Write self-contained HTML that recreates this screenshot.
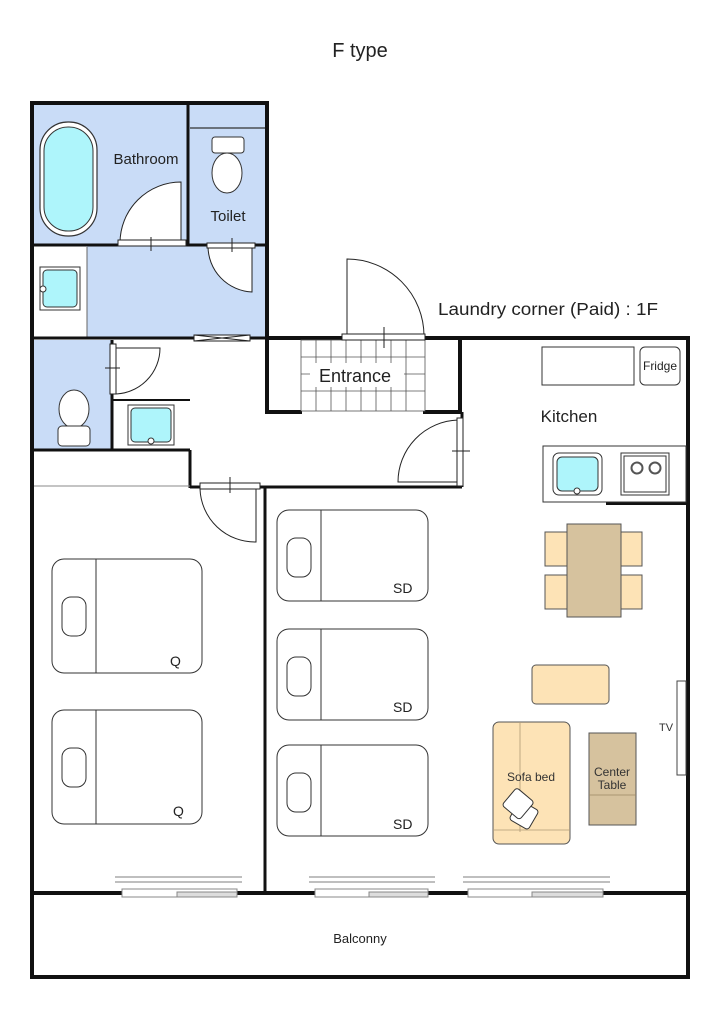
<!DOCTYPE html>
<html><head><meta charset="utf-8"><style>
html,body{margin:0;padding:0;background:#fff;}
svg{display:block;font-family:"Liberation Sans","DejaVu Sans",sans-serif;}
</style></head><body>
<svg width="720" height="1018" viewBox="0 0 720 1018" xmlns="http://www.w3.org/2000/svg">
<rect width="720" height="1018" fill="#fff"/>
<text x="360" y="57" font-size="20" text-anchor="middle" fill="#222">F type</text>

<g fill="#c9dcf7">
<rect x="34" y="105" width="154" height="140"/>
<rect x="188" y="105" width="77" height="140"/>
<rect x="87" y="245" width="178" height="93"/>
<rect x="34" y="340" width="78" height="110"/>
</g>
<rect x="34" y="245" width="53" height="93" fill="#fff"/>
<line x1="87" y1="247" x2="87" y2="338" stroke="#666" stroke-width="1"/>
<line x1="190" y1="128" x2="265" y2="128" stroke="#333" stroke-width="1.2"/>

<g stroke="#111" stroke-width="4" fill="none" stroke-linecap="square">
<polyline points="32,338 32,103 267,103 267,338"/>
<line x1="32" y1="338" x2="32" y2="977"/>
<line x1="32" y1="977" x2="688" y2="977"/>
<line x1="688" y1="338" x2="688" y2="977"/>
<line x1="32" y1="893" x2="688" y2="893"/>
<line x1="425" y1="338" x2="688" y2="338"/>
<line x1="267" y1="338" x2="342" y2="338"/>
<line x1="267" y1="338" x2="267" y2="412"/>
<line x1="267" y1="412" x2="300" y2="412"/>
<line x1="425" y1="412" x2="460" y2="412"/>
<line x1="460" y1="340" x2="460" y2="412"/>
<line x1="608" y1="503" x2="686" y2="503"/>
</g>
<g stroke="#111" stroke-width="3" fill="none">
<line x1="188" y1="104" x2="188" y2="245"/>
<line x1="32" y1="245" x2="120" y2="245"/>
<line x1="185" y1="245" x2="207" y2="245"/>
<line x1="255" y1="245" x2="266" y2="245"/>
<line x1="32" y1="338" x2="195" y2="338"/>
<line x1="250" y1="338" x2="267" y2="338"/>
<line x1="112" y1="340" x2="112" y2="450"/>
<line x1="32" y1="450" x2="190" y2="450"/>
<line x1="190" y1="450" x2="190" y2="488"/>
<line x1="190" y1="487" x2="200" y2="487"/>
<line x1="260" y1="487" x2="462" y2="487"/>
<line x1="462" y1="412" x2="462" y2="487"/>
<line x1="265" y1="487" x2="265" y2="893"/>
</g>
<line x1="112" y1="400" x2="190" y2="400" stroke="#111" stroke-width="2"/>
<line x1="34" y1="486" x2="190" y2="486" stroke="#888" stroke-width="1"/>

<g stroke="#555" stroke-width="0.8">
<rect x="301" y="340" width="124" height="71" fill="#fff"/>
<line x1="316" y1="340" x2="316" y2="411"/><line x1="331" y1="340" x2="331" y2="411"/><line x1="346" y1="340" x2="346" y2="411"/><line x1="361" y1="340" x2="361" y2="411"/><line x1="376" y1="340" x2="376" y2="411"/><line x1="391" y1="340" x2="391" y2="411"/><line x1="406" y1="340" x2="406" y2="411"/>
<line x1="301" y1="357" x2="425" y2="357"/><line x1="301" y1="374" x2="425" y2="374"/><line x1="301" y1="391" x2="425" y2="391"/>
</g>
<rect x="310" y="363" width="94" height="24" fill="#fff"/>
<text x="355" y="382" font-size="18" text-anchor="middle" fill="#222">Entrance</text>

<g stroke="#222" stroke-width="1" fill="#fff">
<path d="M120,243 L181,243 L181,182 A61,61 0 0 0 120,243 Z"/>
<rect x="118" y="240" width="68" height="6"/>
<line x1="151" y1="237" x2="151" y2="251"/>
<path d="M208,246 L252,246 L252,292 A46,46 0 0 1 208,246 Z"/>
<rect x="207" y="243" width="48" height="5"/>
<line x1="232" y1="238" x2="232" y2="252"/>
<path d="M347,336 L347,259 A77,77 0 0 1 424,336 Z"/>
<rect x="342" y="334" width="83" height="6"/>
<line x1="384" y1="327" x2="384" y2="348"/>
<path d="M458,420 L458,482 L398,482 A62,62 0 0 1 458,420 Z"/>
<rect x="457" y="418" width="6" height="68"/>
<line x1="452" y1="451" x2="470" y2="451"/>
<path d="M114,348 L114,394 A46,46 0 0 0 160,348 Z"/>
<rect x="110" y="344" width="6" height="50"/>
<line x1="105" y1="368" x2="120" y2="368"/>
<path d="M200,489 L256,489 L256,542 A55,55 0 0 1 200,489 Z"/>
<rect x="200" y="483" width="60" height="6"/>
<line x1="230" y1="477" x2="230" y2="493"/>
<rect x="194" y="335" width="56" height="6"/>
<line x1="194" y1="335" x2="250" y2="341"/><line x1="194" y1="341" x2="250" y2="335"/>
</g>

<rect x="40" y="122" width="57" height="114" rx="28" fill="#fff" stroke="#333" stroke-width="1.2"/>
<rect x="44" y="127" width="49" height="104" rx="24" fill="#aef5fb" stroke="#333" stroke-width="1"/>
<text x="146" y="164" font-size="15" text-anchor="middle" fill="#222">Bathroom</text>
<text x="228" y="221" font-size="15" text-anchor="middle" fill="#222">Toilet</text>
<rect x="212" y="137" width="32" height="16" rx="3" fill="#fff" stroke="#333"/>
<ellipse cx="227" cy="173" rx="15" ry="20" fill="#fff" stroke="#333"/>
<ellipse cx="74" cy="409" rx="15" ry="19" fill="#fff" stroke="#333"/>
<rect x="58" y="426" width="32" height="20" rx="4" fill="#fff" stroke="#333"/>
<rect x="40" y="267" width="40" height="43" fill="#fff" stroke="#333"/>
<rect x="43" y="270" width="34" height="37" rx="4" fill="#aef5fb" stroke="#333"/>
<circle cx="43" cy="289" r="3" fill="#fff" stroke="#333"/>
<rect x="128" y="405" width="46" height="40" fill="#fff" stroke="#333"/>
<rect x="131" y="408" width="40" height="34" rx="4" fill="#aef5fb" stroke="#333"/>
<circle cx="151" cy="441" r="3" fill="#fff" stroke="#333"/>

<text x="548" y="315" font-size="17.5" text-anchor="middle" fill="#222" textLength="220" lengthAdjust="spacingAndGlyphs">Laundry corner (Paid) : 1F</text>

<rect x="542" y="347" width="92" height="38" fill="#fff" stroke="#333"/>
<rect x="640" y="347" width="40" height="38" rx="5" fill="#fff" stroke="#333"/>
<text x="660" y="370" font-size="12" text-anchor="middle" fill="#222">Fridge</text>
<text x="569" y="422" font-size="17" text-anchor="middle" fill="#222">Kitchen</text>
<rect x="543" y="446" width="143" height="56" fill="#fff" stroke="#333"/>
<rect x="553" y="453" width="49" height="42" rx="6" fill="#fff" stroke="#333"/>
<rect x="557" y="457" width="41" height="34" rx="5" fill="#aef5fb" stroke="#333"/>
<circle cx="577" cy="491" r="3" fill="#fff" stroke="#333"/>
<rect x="621" y="453" width="48" height="42" fill="#fff" stroke="#333"/>
<rect x="624" y="456" width="42" height="36" fill="#fff" stroke="#333"/>
<circle cx="637" cy="468" r="5.5" fill="#fff" stroke="#555" stroke-width="2"/>
<circle cx="655" cy="468" r="5.5" fill="#fff" stroke="#555" stroke-width="2"/>

<g stroke="#555" stroke-width="1">
<rect x="545" y="532" width="24" height="34" fill="#fde3b6"/>
<rect x="545" y="575" width="24" height="34" fill="#fde3b6"/>
<rect x="619" y="532" width="23" height="34" fill="#fde3b6"/>
<rect x="619" y="575" width="23" height="34" fill="#fde3b6"/>
<rect x="567" y="524" width="54" height="93" fill="#d6c29e"/>
<rect x="532" y="665" width="77" height="39" rx="4" fill="#fde3b6"/>
<rect x="493" y="722" width="77" height="122" rx="6" fill="#fde3b6"/>
<rect x="589" y="733" width="47" height="92" fill="#d6c29e"/>
</g>
<line x1="520" y1="722" x2="520" y2="832" stroke="#b09a77" stroke-width="0.8"/>
<line x1="493" y1="830" x2="570" y2="830" stroke="#b09a77" stroke-width="0.8"/>
<line x1="589" y1="795" x2="636" y2="795" stroke="#9c8664" stroke-width="0.8"/>
<text x="531" y="781" font-size="12" text-anchor="middle" fill="#333">Sofa bed</text>
<text x="612" y="776" font-size="12" text-anchor="middle" fill="#333">Center</text>
<text x="612" y="789" font-size="12" text-anchor="middle" fill="#333">Table</text>
<rect x="513" y="804" width="22" height="22" rx="3" fill="#fff" stroke="#333" transform="rotate(30 524 815)"/>
<rect x="507" y="792" width="23" height="23" rx="3" fill="#fff" stroke="#333" transform="rotate(40 518 803)"/>
<rect x="677" y="681" width="9" height="94" fill="#fff" stroke="#444"/>
<text x="666" y="731" font-size="11" text-anchor="middle" fill="#333">TV</text>

<g fill="#fff" stroke="#333" stroke-width="1">
<rect x="52" y="559" width="150" height="114" rx="12"/><line x1="96" y1="559" x2="96" y2="673"/><rect x="62" y="597" width="24" height="39" rx="9"/>
<rect x="52" y="710" width="150" height="114" rx="12"/><line x1="96" y1="710" x2="96" y2="824"/><rect x="62" y="748" width="24" height="39" rx="9"/>
<rect x="277" y="510" width="151" height="91" rx="12"/><line x1="321" y1="510" x2="321" y2="601"/><rect x="287" y="538" width="24" height="39" rx="9"/>
<rect x="277" y="629" width="151" height="91" rx="12"/><line x1="321" y1="629" x2="321" y2="720"/><rect x="287" y="657" width="24" height="39" rx="9"/>
<rect x="277" y="745" width="151" height="91" rx="12"/><line x1="321" y1="745" x2="321" y2="836"/><rect x="287" y="773" width="24" height="39" rx="9"/>
</g>
<g font-size="14" fill="#222">
<text x="170" y="666">Q</text><text x="173" y="816">Q</text>
<text x="393" y="593">SD</text><text x="393" y="712">SD</text><text x="393" y="829">SD</text>
</g>

<g stroke="#aaa" stroke-width="1.5">
<line x1="115" y1="877" x2="242" y2="877"/><line x1="115" y1="882" x2="242" y2="882"/>
<line x1="309" y1="877" x2="435" y2="877"/><line x1="309" y1="882" x2="435" y2="882"/>
<line x1="463" y1="877" x2="610" y2="877"/><line x1="463" y1="882" x2="610" y2="882"/>
</g>
<g fill="#fff" stroke="#888" stroke-width="1">
<rect x="122" y="889" width="115" height="8"/><rect x="177" y="892" width="60" height="5" fill="#ddd"/>
<rect x="315" y="889" width="113" height="8"/><rect x="369" y="892" width="59" height="5" fill="#ddd"/>
<rect x="468" y="889" width="135" height="8"/><rect x="532" y="892" width="71" height="5" fill="#ddd"/>
</g>
<text x="360" y="943" font-size="13" text-anchor="middle" fill="#222">Balconny</text>
</svg>
</body></html>
